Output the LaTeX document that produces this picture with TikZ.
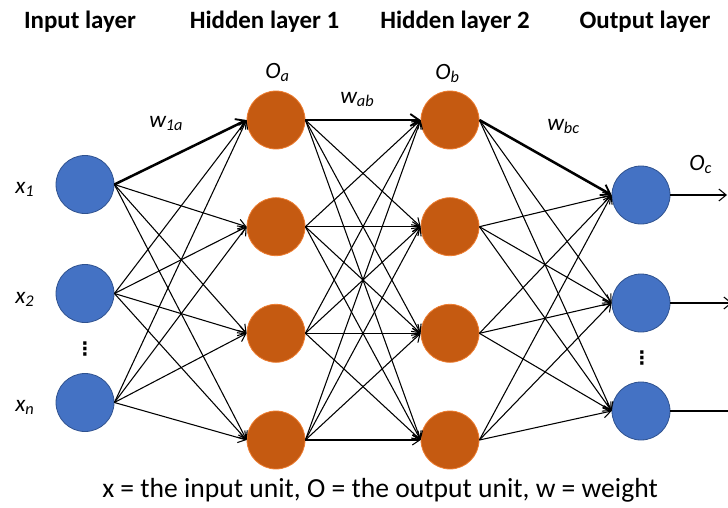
\documentclass[tikz,border=0pt]{standalone}
\usepackage{fontspec}
\setmainfont{Carlito}
\newfontfamily\symfont{DejaVu Sans}
\usetikzlibrary{arrows.meta}

\definecolor{unitblue}{HTML}{4472C4}
\definecolor{unitblueedge}{HTML}{2F528F}
\definecolor{hidorange}{HTML}{C55A11}
\definecolor{hidorangeedge}{HTML}{ED7D31}

\tikzset{
  neuron/.style={circle, minimum size=43.5pt, inner sep=0pt, line width=0.6pt},
  bluenode/.style={neuron, fill=unitblue, draw=unitblueedge},
  orangenode/.style={neuron, fill=hidorange, draw=hidorangeedge},
  conn/.style={line width=0.8pt, -{Straight Barb[length=5.5pt,width=7.5pt,line width=0.8pt]}},
  strongconn/.style={line width=1.9pt, -{Straight Barb[length=6.5pt,width=9pt,line width=1.4pt]}},
  outconn/.style={line width=0.8pt, -{Straight Barb[length=5.5pt,width=9pt,line width=0.8pt]}},
  header/.style={anchor=base, inner sep=0pt, font=\fontsize{18.7}{22}\selectfont\bfseries},
  sym/.style={anchor=base west, inner sep=0pt, font=\fontsize{17.5}{20}\selectfont\itshape},
  note/.style={anchor=base west, inner sep=0pt, font=\fontsize{20.7}{24}\selectfont},
  ellip/.style={inner sep=0pt, font=\symfont\fontsize{14}{16}\selectfont\bfseries}
}

\begin{document}
\begin{tikzpicture}[x=0.75pt, y=-0.75pt]
  \useasboundingbox (0,0) rectangle (728,507);
  \clip (0,0) rectangle (728,507);

  % layer headings
  \node[header] (hIn)  at (80,28)    {Input layer};
  \node[header] (hH1)  at (264.5,28) {Hidden layer 1};
  \node[header] (hH2)  at (455,28)   {Hidden layer 2};
  \node[header] (hOut) at (645,28)   {Output layer};

  % input units
  \node[bluenode] (in1) at (85,184.5) {};
  \node[bluenode] (in2) at (85,293.5) {};
  \node[bluenode] (in3) at (85,402.5) {};

  % first hidden layer
  \node[orangenode] (ha1) at (276,120) {};
  \node[orangenode] (ha2) at (276,226.7) {};
  \node[orangenode] (ha3) at (276,333.3) {};
  \node[orangenode] (ha4) at (276,440) {};

  % second hidden layer
  \node[orangenode] (hb1) at (450,120) {};
  \node[orangenode] (hb2) at (450,226.7) {};
  \node[orangenode] (hb3) at (450,333.3) {};
  \node[orangenode] (hb4) at (450,440) {};

  % output units
  \node[bluenode] (out1) at (641,195) {};
  \node[bluenode] (out2) at (641,303) {};
  \node[bluenode] (out3) at (641,411) {};

  % free ends of the output lines
  \coordinate (e1) at (727,195);
  \coordinate (e2) at (732,303);
  \coordinate (e3) at (745,411);

  % input -> hidden 1
  \foreach \i in {1,2,3} {
    \foreach \j in {1,2,3,4} {
      \ifnum\i\j=11\else
        \draw[conn] (in\i.east) -- (ha\j.west);
      \fi
    }
  }
  % hidden 1 -> hidden 2
  \foreach \i in {1,2,3,4} {
    \foreach \j in {1,2,3,4} {
      \ifnum\i\j=11\else
        \draw[conn] (ha\i.east) -- (hb\j.west);
      \fi
    }
  }
  % hidden 2 -> output
  \foreach \i in {1,2,3,4} {
    \foreach \j in {1,2,3} {
      \ifnum\i\j=11\else
        \draw[conn] (hb\i.east) -- (out\j.west);
      \fi
    }
  }
  % highlighted path
  \draw[strongconn] (in1.east) -- (ha1.west);
  \draw[strongconn] (ha1.east) -- (hb1.west);
  \draw[strongconn] (hb1.east) -- (out1.west);

  % outputs
  \draw[outconn] (out1.east) -- (e1);
  \draw[outconn] (out2.east) -- (e2);
  \draw[outconn] (out3.east) -- (e3);

  % symbols
  \node[sym] (lx1) at (15,193) {x\textsubscript{1}};
  \node[sym] (lx2) at (15,303) {x\textsubscript{2}};
  \node[sym] (lxn) at (15,411) {x\textsubscript{n}};
  \node[sym] (lOa) at (265,78)  {O\textsubscript{a}};
  \node[sym] (lOb) at (435,79)  {O\textsubscript{b}};
  \node[sym] (lOc) at (689,170) {O\textsubscript{c}};
  \node[sym] (lw1a) at (149,127) {w\textsubscript{1a}};
  \node[sym] (lwab) at (340,103) {w\textsubscript{ab}};
  \node[sym] (lwbc) at (547,130) {w\textsubscript{bc}};

  % ellipses between units
  \node[ellip] (dotsIn)  at (85,349)  {⋮};
  \node[ellip] (dotsOut) at (642,358) {⋮};

  % legend
  \node[note] (legend) at (102,497) {x = the input unit, O = the output unit, w = weight};
\end{tikzpicture}
\end{document}
